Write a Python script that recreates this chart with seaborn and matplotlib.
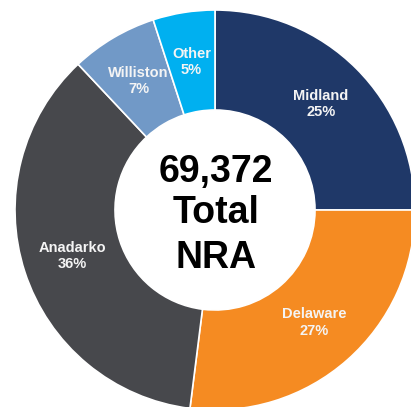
import numpy as np
import matplotlib
matplotlib.use("Agg")
import matplotlib.pyplot as plt
import seaborn as sns

# Data
categories = ["Midland", "Delaware", "Anadarko", "Williston", "Other"]
shares = [25, 27, 36, 7, 5]
colors = ["#1F3868", "#F58B22", "#47484C", "#7199C7", "#00B0F0"]
center_lines = ["69,372", "Total", "NRA"]

sns.set_theme(style="white")
plt.rcParams["font.family"] = ["Liberation Sans", "DejaVu Sans"]

W, H = 411, 407
fig = plt.figure(figsize=(W / 100, H / 100), dpi=100)
ax = fig.add_axes([0, 0, 1, 1])

cx, cy = 215, H - 210
R, r = 200, 100

ax.pie(shares, colors=colors, startangle=90, counterclock=False,
       center=(cx, cy), radius=R, frame=True,
       wedgeprops=dict(width=R - r, edgecolor="white", linewidth=1.2))
ax.set_xlim(0, W)
ax.set_ylim(0, H)
ax.axis("off")

total = sum(shares)
cum = 0
label_r = 150
for name, s in zip(categories, shares):
    mid = (cum + s / 2) / total * 360
    cum += s
    th = np.deg2rad(mid)
    x = cx + label_r * np.sin(th)
    y = cy + label_r * np.cos(th)
    ax.text(x, y, f"{name}\n{s}%", ha="center", va="center", color="#F4F4F4",
            fontsize=10.5, fontweight="bold", linespacing=1.2)

baselines = [182, 223, 268]
for txt, b in zip(center_lines, baselines):
    ax.text(cx + 1, H - b, txt, ha="center", va="baseline", color="black",
            fontsize=27, fontweight="bold")

fig.savefig("out.png", dpi=100)
